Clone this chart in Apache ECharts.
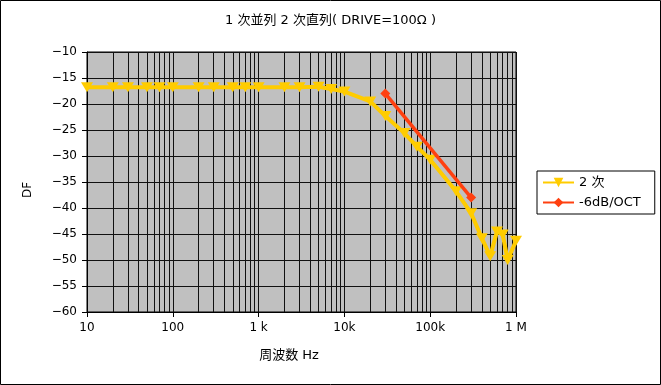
<!DOCTYPE html>
<html>
<head>
<meta charset="utf-8">
<script src="https://cdn.jsdelivr.net/npm/echarts@6/dist/echarts.min.js"></script>
<style>
html,body{margin:0;padding:0;background:#fff;}
#chart{width:661px;height:385px;}
</style>
</head>
<body>
<div id="chart"></div>
<script>
// ---- data ----
const titleText = '1 次並列 2 次直列( DRIVE=100Ω )';
const xName = '周波数 Hz';
const yName = 'DF';
const seriesNames = ['2 次', '-6dB/OCT'];
const freq2 = [10, 20, 30, 50, 70, 100, 200, 300, 500, 700, 1000, 2000, 3000, 5000, 7000,
  10000, 20000, 30000, 50000, 70000, 100000, 200000, 300000, 400000, 500000, 600000, 700000, 800000, 1000000];
const df2 = [-16.8, -16.8, -16.8, -16.8, -16.8, -16.8, -16.8, -16.8, -16.8, -16.8, -16.8, -16.8, -16.8, -16.7, -17.1,
  -17.6, -19.5, -22.3, -25.6, -28.2, -30.7, -36.8, -41.0, -45.8, -49.3, -44.5, -45.1, -50.0, -46.3];
const refFreq = [30000, 300000];
const refDF = [-18, -38];
const xTickLabels = {1: '10', 2: '100', 3: '1 k', 4: '10k', 5: '100k', 6: '1 M'};
const yMin = -60, yMax = -10, yStep = 5;
const xMin = 10, xMax = 1000000;

// minor grid positions (2..9 within each decade)
const minorGrid = [];
for (let d = xMin; d < xMax; d *= 10) {
  for (let m = 2; m <= 9; m++) minorGrid.push({xAxis: d * m});
}

const FONT = 'DejaVu Sans, Noto Sans CJK JP, sans-serif';
const chart = echarts.init(document.getElementById('chart'), null, {renderer: 'canvas'});
chart.setOption({
  animation: false,
  backgroundColor: '#fff',
  textStyle: {fontFamily: FONT, fontSize: 12, color: '#000'},
  title: {
    text: titleText, left: 'center', top: 14, padding: 0,
    textStyle: {fontFamily: FONT, fontSize: 13, fontWeight: 'normal', color: '#000'}
  },
  legend: {
    data: seriesNames,
    orient: 'vertical', left: 537, top: 171,
    padding: [5, 14, 5, 5], itemGap: 7, itemWidth: 31, itemHeight: 12,
    backgroundColor: '#fff', borderColor: '#000', borderWidth: 1,
    textStyle: {fontFamily: FONT, fontSize: 13, color: '#000'}
  },
  grid: {
    left: 87, right: 145, top: 52, bottom: 73,
    show: true, backgroundColor: '#c0c0c0', borderColor: '#000', borderWidth: 1
  },
  xAxis: {
    type: 'log', logBase: 10, min: xMin, max: xMax,
    name: xName, nameLocation: 'middle', nameGap: 37,
    nameTextStyle: {fontFamily: FONT, fontSize: 13, color: '#000', padding: [0, 25, 0, 0]},
    axisLine: {show: true, lineStyle: {color: '#000', width: 1}},
    axisTick: {show: true, length: 5, lineStyle: {color: '#000'}},
    axisLabel: {
      margin: 10, fontSize: 12, color: '#000', fontFamily: FONT,
      formatter: v => xTickLabels[Math.round(Math.log10(v))] || ''
    },
    splitLine: {show: true, lineStyle: {color: '#111', width: 1}},
    minorTick: {show: false}, minorSplitLine: {show: false}
  },
  yAxis: {
    type: 'value', min: yMin, max: yMax, interval: yStep,
    name: yName, nameLocation: 'middle', nameGap: 53,
    nameTextStyle: {fontFamily: FONT, fontSize: 12, color: '#000', padding: [0, 16, 0, 0]},
    axisLine: {show: true, lineStyle: {color: '#000', width: 1}},
    axisTick: {show: true, length: 5, lineStyle: {color: '#000'}},
    axisLabel: {
      margin: 10, fontSize: 12, color: '#000', fontFamily: FONT,
      formatter: v => String(v).replace('-', '\u2212')
    },
    splitLine: {show: true, lineStyle: {color: '#111', width: 1}}
  },
  series: [
    {
      name: '_grid', type: 'line', data: [], z: 1, silent: true,
      markLine: {
        silent: true, symbol: 'none', z: 1, animation: false,
        label: {show: false},
        lineStyle: {color: '#111', width: 1, type: 'solid'},
        data: minorGrid
      }
    },
    {
      name: seriesNames[0], type: 'line', z: 3,
      data: freq2.map((f, i) => [f, df2[i]]),
      symbol: 'triangle', symbolRotate: 180, symbolSize: [12, 10],
      lineStyle: {color: '#ffcc00', width: 4},
      itemStyle: {color: '#ffcc00'}
    },
    {
      name: seriesNames[1], type: 'line', z: 4,
      data: refFreq.map((f, i) => [f, refDF[i]]),
      symbol: 'diamond', symbolSize: 10,
      lineStyle: {color: '#ff4010', width: 3.5},
      itemStyle: {color: '#ff4010'}
    }
  ],
  graphic: [{
    type: 'rect', silent: true, z: 100,
    shape: {x: 0.5, y: 0.5, width: 660, height: 384},
    style: {fill: 'none', stroke: '#000', lineWidth: 1}
  }]
});
</script>
</body>
</html>
